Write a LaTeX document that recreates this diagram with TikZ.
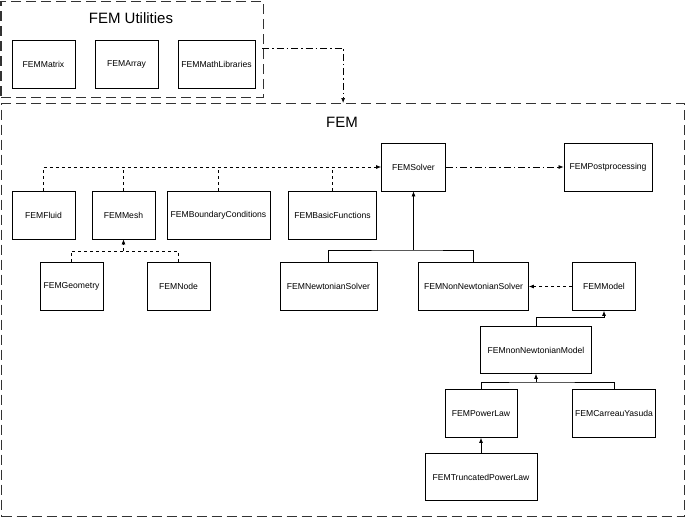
\documentclass[tikz,border=0pt]{standalone}
\usepackage{fontspec}
\setmainfont{Liberation Sans}
\usetikzlibrary{arrows.meta,positioning}

\begin{document}
\begin{tikzpicture}[x=1pt,y=-1pt,>={Latex[length=5pt,width=4pt]},
   cls/.style={draw,rectangle,line width=0.8pt,minimum width=63pt,minimum height=48pt,inner sep=1pt,font=\fontsize{8.6}{10}\selectfont},
   group/.style={draw=black!80,line width=1.3pt,dash pattern=on 10pt off 5pt,anchor=north west,inner sep=0pt},
   title/.style={font=\fontsize{15}{18}\selectfont},
   link/.style={line width=0.7pt},
   dep/.style={link,dash pattern=on 3pt off 3pt},
   use/.style={link,dash pattern=on 7pt off 3pt on 1.5pt off 3pt}]
   \useasboundingbox (0,0) rectangle (685,517);
   % groups
   \node[group,minimum width=262pt,minimum height=96pt] (utilbox) at (0.5,0.5) {};
   \node[title] (utiltitle) at (131,18) {FEM Utilities};
   \node[group,minimum width=683pt,minimum height=413pt] (fembox) at (1,103) {};
   \node[title] (femtitle) at (342,122) {FEM};
   % utilities
   \node[cls] (matrix) at (43.5,64) {FEMMatrix};
   \node[cls] (array) at (126.5,64) {FEMArray};
   \node[cls,minimum width=77pt] (mathlib) at (216.5,64) {FEMMathLibraries};
   % fem
   \node[cls,minimum width=64pt] (solver) at (413.5,167) {FEMSolver};
   \node[cls,minimum width=88pt] (post) at (608,167) {FEMPostprocessing};
   \node[cls] (fluid) at (43.5,215) {FEMFluid};
   \node[cls] (mesh) at (123.5,215) {FEMMesh};
   \node[cls,minimum width=103pt] (boundary) at (218.5,215) {FEMBoundaryConditions};
   \node[cls,minimum width=88pt] (basic) at (332.5,215) {FEMBasicFunctions};
   \node[cls] (geometry) at (71.5,286.5) {FEMGeometry};
   \node[cls] (fnode) at (178.5,286.5) {FEMNode};
   \node[cls,minimum width=97pt] (newtsolver) at (328.5,286.5) {FEMNewtonianSolver};
   \node[cls,minimum width=110pt] (nonnewtsolver) at (473.5,286.5) {FEMNonNewtonianSolver};
   \node[cls] (model) at (604,286.5) {FEMModel};
   \node[cls,minimum width=111pt,minimum height=47pt] (nnmodel) at (536,350) {FEMnonNewtonianModel};
   \node[cls,minimum width=72pt] (powerlaw) at (481,413.5) {FEMPowerLaw};
   \node[cls,minimum width=83pt] (carreau) at (614,413.5) {FEMCarreauYasuda};
   \node[cls,minimum width=112pt,minimum height=47pt] (truncated) at (481,477) {FEMTruncatedPowerLaw};
   % joints
   \coordinate (utilout) at (262,48);
   \coordinate (meshjoin) at (123.5,251);
   \coordinate (solverjoin) at (413.5,250);
   \coordinate (modeljoin) at (604,317);
   \coordinate (lawjoin) at (536,382);
   % connectors
   \draw[use,->] (utilout) -| (fembox.north);
   \draw[use,->] (solver) -- (post);
   \draw[dep,->] (fluid.north) |- (solver.west);
   \draw[dep] (mesh.north) -- (mesh.north |- solver.west);
   \draw[dep] (boundary.north) -- (boundary.north |- solver.west);
   \draw[dep] (basic.north) -- (basic.north |- solver.west);
   \draw[dep] (geometry.north) |- (meshjoin) -| (fnode.north);
   \draw[dep,->] (meshjoin) -- (mesh.south);
   \draw[link] (newtsolver.north) |- (solverjoin) -| (nonnewtsolver.north);
   \draw[link,->] (solverjoin) -- (solver.south);
   \draw[dep,->] (model) -- (nonnewtsolver);
   \draw[link,->] (nnmodel.north) |- (modeljoin) -- (model.south);
   \draw[link] (powerlaw.north) |- (lawjoin) -| (carreau.north);
   \draw[link,->] (lawjoin) -- (nnmodel.south);
   \draw[link,->] (truncated) -- (powerlaw);
\end{tikzpicture}
\end{document}
